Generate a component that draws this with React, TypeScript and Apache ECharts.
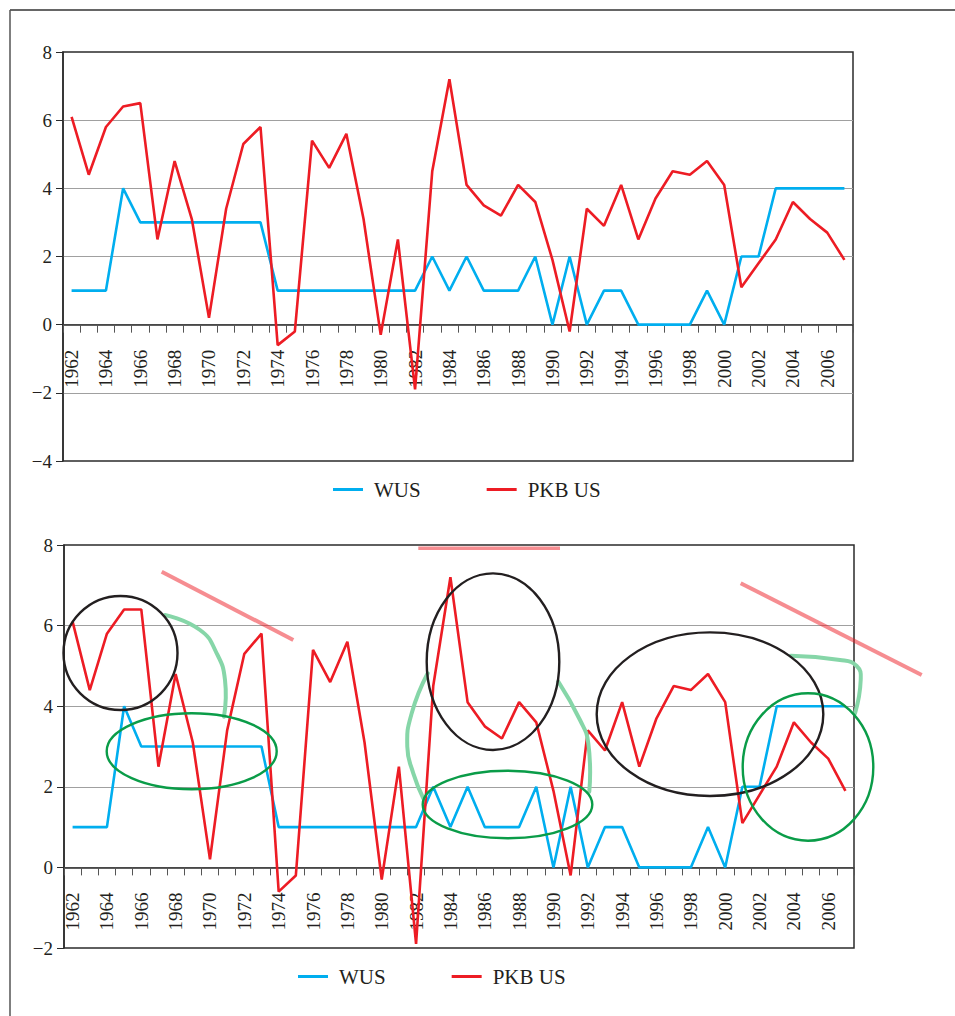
import React, { useEffect, useRef } from "react";
import * as echarts from "echarts";

const years = [
  "1962", "1963", "1964", "1965", "1966", "1967", "1968", "1969", "1970", "1971",
  "1972", "1973", "1974", "1975", "1976", "1977", "1978", "1979", "1980", "1981",
  "1982", "1983", "1984", "1985", "1986", "1987", "1988", "1989", "1990", "1991",
  "1992", "1993", "1994", "1995", "1996", "1997", "1998", "1999", "2000", "2001",
  "2002", "2003", "2004", "2005", "2006", "2007",
];

const wus = [
  1, 1, 1, 4, 3, 3, 3, 3, 3, 3,
  3, 3, 1, 1, 1, 1, 1, 1, 1, 1,
  1, 2, 1, 2, 1, 1, 1, 2, 0, 2,
  0, 1, 1, 0, 0, 0, 0, 1, 0, 2,
  2, 4, 4, 4, 4, 4,
];

const pkbUpper = [
  6.1, 4.4, 5.8, 6.4, 6.5, 2.5, 4.8, 3.1, 0.2, 3.4,
  5.3, 5.8, -0.6, -0.2, 5.4, 4.6, 5.6, 3.1, -0.3, 2.5,
  -1.9, 4.5, 7.2, 4.1, 3.5, 3.2, 4.1, 3.6, 1.9, -0.2,
  3.4, 2.9, 4.1, 2.5, 3.7, 4.5, 4.4, 4.8, 4.1, 1.1,
  1.8, 2.5, 3.6, 3.1, 2.7, 1.9,
];

const pkbLower = [
  6.1, 4.4, 5.8, 6.4, 6.4, 2.5, 4.8, 3.1, 0.2, 3.4,
  5.3, 5.8, -0.6, -0.2, 5.4, 4.6, 5.6, 3.1, -0.3, 2.5,
  -1.9, 4.5, 7.2, 4.1, 3.5, 3.2, 4.1, 3.6, 1.9, -0.2,
  3.4, 2.9, 4.1, 2.5, 3.7, 4.5, 4.4, 4.8, 4.1, 1.1,
  1.8, 2.5, 3.6, 3.1, 2.7, 1.9,
];

const seriesNames = ["WUS", "PKB US"];
const upperYTicks = { min: -4, max: 8, interval: 2 };
const lowerYTicks = { min: -2, max: 8, interval: 2 };

const FONT = "'Liberation Serif', 'Times New Roman', serif";
const TEXT = "#231f20";
const AXIS = "#2b2b2b";
const GRIDLINE = "#a0a0a0";
const BLUE = "#00aeef";
const RED = "#ed1c24";
const BLACK = "#231f20";
const GREEN = "#0a9c48";
const MINT = "#86d6a8";
const PINK = "rgba(237, 28, 36, 0.5)";

const upperGrid = { left: 63, top: 52, width: 790, height: 409 };
const lowerGrid = { left: 64, top: 545, width: 790, height: 403 };

// distance from the grid's bottom edge up to the value 0, so the x axis sits on zero
function zeroOffset(g: { height: number }, t: { min: number; max: number }) {
  return -(g.height * (0 - t.min)) / (t.max - t.min);
}

function xAxisFor(gridIndex: number, offset: number) {
  return {
    type: "category",
    gridIndex,
    data: years,
    boundaryGap: true,
    position: "bottom",
    offset,
    axisLine: { onZero: false, lineStyle: { color: AXIS, width: 1.5 } },
    axisTick: { show: true, interval: 0, length: 8, lineStyle: { color: "#555", width: 1 } },
    axisLabel: {
      interval: 1,
      rotate: 90,
      margin: 25,
      fontSize: 19,
      fontFamily: FONT,
      color: TEXT,
    },
    splitLine: { show: false },
  };
}

function yAxisFor(gridIndex: number, ticks: { min: number; max: number; interval: number }) {
  return {
    type: "value",
    gridIndex,
    min: ticks.min,
    max: ticks.max,
    interval: ticks.interval,
    axisLine: { show: true, lineStyle: { color: AXIS, width: 1.5 } },
    axisTick: { show: true, length: 7, lineStyle: { color: AXIS, width: 1 } },
    axisLabel: {
      margin: 11,
      fontSize: 19,
      fontFamily: FONT,
      color: TEXT,
      formatter: (v: number) => String(v).replace("-", "\u2212"),
    },
    splitLine: {
      show: true,
      showMinLine: false,
      showMaxLine: false,
      lineStyle: { color: GRIDLINE, width: 1.2 },
    },
  };
}

function legendAt(left: number, top: number) {
  return {
    left,
    top,
    padding: 0,
    orient: "horizontal",
    icon: "rect",
    itemWidth: 30,
    itemHeight: 3,
    itemGap: 66,
    data: seriesNames,
    textStyle: {
      fontSize: 21,
      fontFamily: FONT,
      color: TEXT,
      padding: [0, 0, 0, 6],
    },
  };
}

function ellipse(cx: number, cy: number, rx: number, ry: number, stroke: string, lineWidth: number) {
  return {
    type: "ellipse",
    silent: true,
    z: 100,
    shape: { cx, cy, rx, ry },
    style: { fill: "none", stroke, lineWidth },
  };
}

function seg(x1: number, y1: number, x2: number, y2: number, stroke: string, lineWidth: number) {
  return {
    type: "line",
    silent: true,
    z: 100,
    shape: { x1, y1, x2, y2 },
    style: { stroke, lineWidth, lineCap: "butt" },
  };
}

function curve(points: number[][], stroke: string, lineWidth: number) {
  return {
    type: "polyline",
    silent: true,
    z: 99,
    shape: { points, smooth: 0.5 },
    style: { fill: "none", stroke, lineWidth, lineCap: "round" },
  };
}

export default function App() {
  const ref = useRef<HTMLDivElement>(null);

  useEffect(() => {
    if (!ref.current) return;
    const chart = echarts.init(ref.current, undefined, { renderer: "svg" });

    const option = {
      animation: false,
      backgroundColor: "#ffffff",
      grid: [
        { ...upperGrid, show: true, borderColor: AXIS, borderWidth: 1.5, backgroundColor: "transparent" },
        { ...lowerGrid, show: true, borderColor: AXIS, borderWidth: 1.5, backgroundColor: "transparent" },
      ],
      xAxis: [
        xAxisFor(0, zeroOffset(upperGrid, upperYTicks)),
        xAxisFor(1, zeroOffset(lowerGrid, lowerYTicks)),
      ],
      yAxis: [yAxisFor(0, upperYTicks), yAxisFor(1, lowerYTicks)],
      legend: [legendAt(333, 479), legendAt(298, 966)],
      series: [
        {
          name: seriesNames[0], type: "line", xAxisIndex: 0, yAxisIndex: 0, data: wus,
          symbol: "none", color: BLUE, lineStyle: { color: BLUE, width: 2.6 }, z: 2,
        },
        {
          name: seriesNames[1], type: "line", xAxisIndex: 0, yAxisIndex: 0, data: pkbUpper,
          symbol: "none", color: RED, lineStyle: { color: RED, width: 2.6 }, z: 3,
        },
        {
          name: seriesNames[0], type: "line", xAxisIndex: 1, yAxisIndex: 1, data: wus,
          symbol: "none", color: BLUE, lineStyle: { color: BLUE, width: 2.6 }, z: 2,
        },
        {
          name: seriesNames[1], type: "line", xAxisIndex: 1, yAxisIndex: 1, data: pkbLower,
          symbol: "none", color: RED, lineStyle: { color: RED, width: 2.6 }, z: 3,
        },
      ],
      graphic: [
        // page frame
        seg(10, 10, 955, 10, "#333", 1.5),
        seg(10, 10, 10, 1016, "#555", 1.5),
        // annotations on the lower chart
        seg(161.7, 571.7, 293.3, 640, PINK, 4),
        seg(418.3, 548.3, 560, 548.3, PINK, 3.5),
        seg(740.7, 583.3, 921.7, 675, PINK, 4),
        curve([[165, 615], [200, 630], [216.7, 653.3], [225, 680], [224, 716.7]], MINT, 4),
        curve([[427.7, 673.3], [411.7, 713.3], [407.3, 746.7], [413.3, 773.3], [423.3, 798.3]], MINT, 4),
        curve([[558.3, 681.7], [580, 720], [588.3, 743.3], [589.3, 791.7]], MINT, 4),
        curve([[790.7, 655.7], [840, 660], [856.7, 666], [860.7, 680], [855, 713.3]], MINT, 4),
        ellipse(120.5, 653, 57, 57, BLACK, 2.4),
        ellipse(191.7, 751.3, 85, 38, GREEN, 2.4),
        ellipse(493, 661.7, 66.3, 88.3, BLACK, 2.4),
        ellipse(507.5, 804.5, 84.8, 33.8, GREEN, 2.4),
        ellipse(710, 714.2, 113.3, 81.8, BLACK, 2.4),
        ellipse(808, 767, 65.3, 73.7, GREEN, 2.4),
      ],
    };

    chart.setOption(option as any);
    return () => chart.dispose();
  }, []);

  return (
    <div
      ref={ref}
      style={{ position: "absolute", left: 0, top: 0, width: 955, height: 1016, background: "#fff" }}
    />
  );
}
